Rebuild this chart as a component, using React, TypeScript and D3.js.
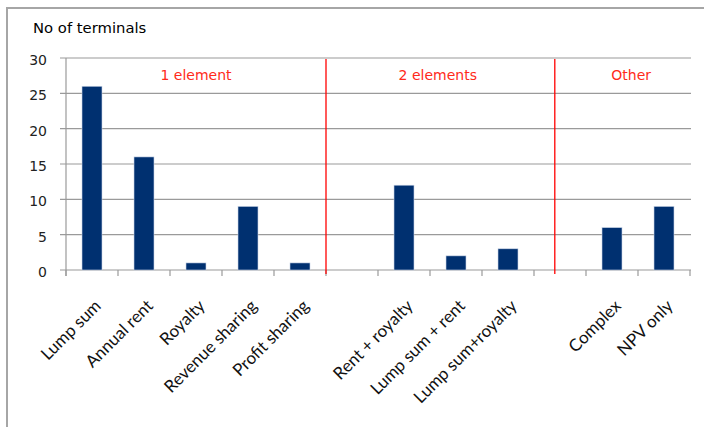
import React from "react";
import * as d3 from "d3";

// Payment scheme categories (empty strings are spacer slots between groups)
const categories = [
  "Lump sum",
  "Annual rent",
  "Royalty",
  "Revenue sharing",
  "Profit sharing",
  "",
  "Rent + royalty",
  "Lump sum + rent",
  "Lump sum+royalty",
  "",
  "Complex",
  "NPV only",
];
const terminals: (number | null)[] = [26, 16, 1, 9, 1, null, 12, 2, 3, null, 6, 9];

const yTicks = [0, 5, 10, 15, 20, 25, 30];

// Group headings and their centre, in category-slot units
const groupLabels = ["1 element", "2 elements", "Other"];
const groupCenters = [2.5, 7.15, 10.87];
// Red separators, in category-slot units
const dividers = [5, 9.4];

const W = 704;
const H = 427;

export default function App() {
  const left = 66;
  const right = 690;
  const top = 58;
  const bottom = 270;

  const x = d3
    .scaleBand<number>()
    .domain(categories.map((_, i) => i))
    .range([left, right])
    .paddingInner(0)
    .paddingOuter(0);
  const bw = x.bandwidth();
  const slot = (v: number) => left + v * bw;
  const y = d3.scaleLinear().domain([0, 30]).range([bottom, top]);
  const barW = 20;

  const axisFont = "'DejaVu Sans', Verdana, sans-serif";
  const labelFont = "Lato, 'Open Sans', sans-serif";

  return (
    <svg
      width={W}
      height={H}
      style={{ position: "absolute", left: 0, top: 0, background: "#fff" }}
    >
      {/* outer frame */}
      <rect x={7} y={8} width={W + 20} height={H + 20} fill="none" stroke="#a6a6a6" strokeWidth={2} />

      <text x={33} y={33} fontFamily={axisFont} fontSize={14.8} fill="#000">
        No of terminals
      </text>

      {/* gridlines and y ticks */}
      {yTicks.map((t) => (
        <g key={t}>
          <line x1={left - 6} x2={right + 1} y1={y(t)} y2={y(t)} stroke="#9a9a9a" strokeWidth={1.2} />
          <text
            x={47}
            y={y(t) + 2}
            dy="0.36em"
            textAnchor="end"
            fontFamily={axisFont}
            fontSize={14}
            fill="#222"
          >
            {t}
          </text>
        </g>
      ))}
      <line x1={left} x2={left} y1={top} y2={bottom + 6} stroke="#9a9a9a" strokeWidth={1.2} />

      {/* category boundary ticks */}
      {d3.range(categories.length + 1).map((i) => (
        <line
          key={i}
          x1={slot(i)}
          x2={slot(i)}
          y1={bottom}
          y2={bottom + 6}
          stroke="#9a9a9a"
          strokeWidth={1.2}
        />
      ))}

      {/* bars */}
      {terminals.map((v, i) =>
        v == null ? null : (
          <rect
            key={i}
            x={(x(i) as number) + bw / 2 - barW / 2}
            y={y(v)}
            width={barW}
            height={bottom - y(v)}
            fill="#003070"
            stroke="#c8d4e6"
            strokeWidth={0.6}
          />
        )
      )}

      {/* group dividers */}
      {dividers.map((d) => (
        <line key={d} x1={slot(d)} x2={slot(d)} y1={top + 1} y2={bottom + 4} stroke="#ff0000" strokeWidth={1.3} />
      ))}

      {groupLabels.map((g, i) => (
        <text
          key={g}
          x={slot(groupCenters[i])}
          y={80}
          textAnchor="middle"
          fontFamily={axisFont}
          fontSize={14}
          fill="#ff2a1a"
        >
          {g}
        </text>
      ))}

      {/* rotated category labels */}
      {categories.map((c, i) =>
        c ? (
          <text
            key={i}
            transform={`translate(${(x(i) as number) + bw / 2 + 10},${bottom + 37}) rotate(-45)`}
            textAnchor="end"
            fontFamily={labelFont}
            fontSize={17}
            fill="#111"
          >
            {c}
          </text>
        ) : null
      )}
    </svg>
  );
}
